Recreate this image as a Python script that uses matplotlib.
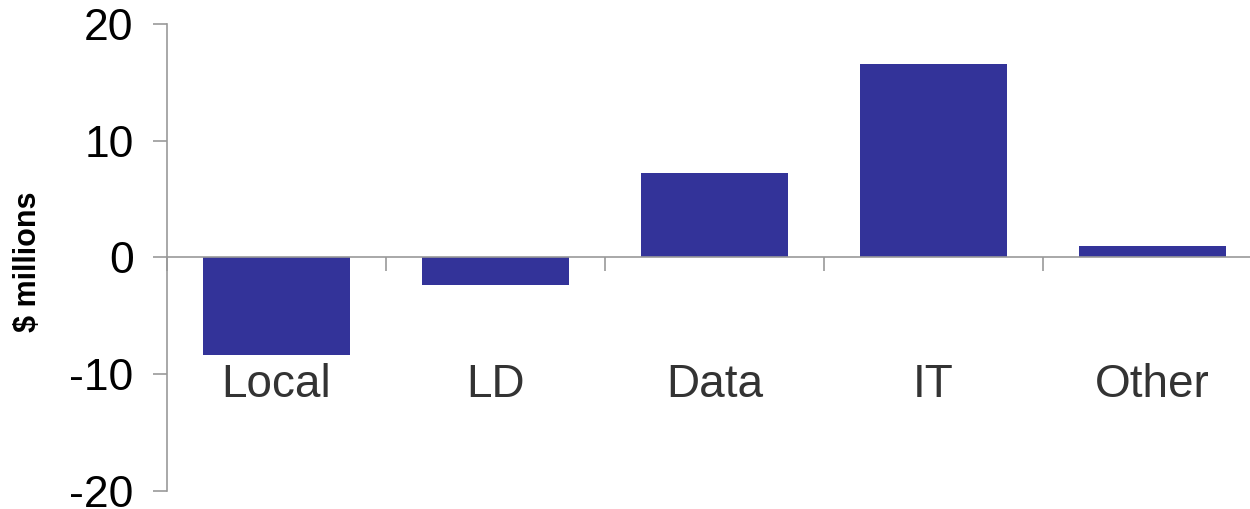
import matplotlib.pyplot as plt
import numpy as np

plt.rcParams['font.family'] = ['Liberation Sans', 'DejaVu Sans']

categories = ['Local', 'LD', 'Data', 'IT', 'Other']
values = [-8.4, -2.4, 7.2, 16.6, 1.0]
y_ticks = [-20, -10, 0, 10, 20]

bar_color = '#333399'
axis_color = '#999999'

fig = plt.figure(figsize=(12.5, 5.09), dpi=100)
ax = fig.add_axes([0.1336, 0.036, 0.876, 0.917])

x = np.arange(len(categories))
ax.bar(x, values, width=0.667, color=bar_color, zorder=2)

ax.set_xlim(-0.5, len(categories) - 0.5)
ax.set_ylim(-20, 20)

# axis line through zero, ticks between categories
for side in ['top', 'right']:
    ax.spines[side].set_visible(False)
ax.spines['bottom'].set_position(('data', 0))
for side in ['left', 'bottom']:
    ax.spines[side].set_color(axis_color)
    ax.spines[side].set_linewidth(1.2)

ax.set_xticks(np.arange(-0.5, len(categories), 1.0))
ax.set_xticklabels([])
ax.tick_params(axis='x', direction='out', length=10, width=1.2, color=axis_color)

ax.set_yticks(y_ticks)
ax.set_yticklabels([str(t) for t in y_ticks])
ax.tick_params(axis='y', direction='out', length=10, width=1.2, color=axis_color,
               pad=14, labelsize=32, labelcolor='black')

for xi, name in zip(x, categories):
    ax.text(xi, -12.0, name, ha='center', va='baseline', fontsize=33, color='#333333')

ax.set_ylabel('$ millions', fontsize=22, fontweight='bold')
ax.yaxis.label.set_va('center')
ax.yaxis.set_label_coords(-0.127, 0.49)

fig.savefig('out.png', dpi=100)
